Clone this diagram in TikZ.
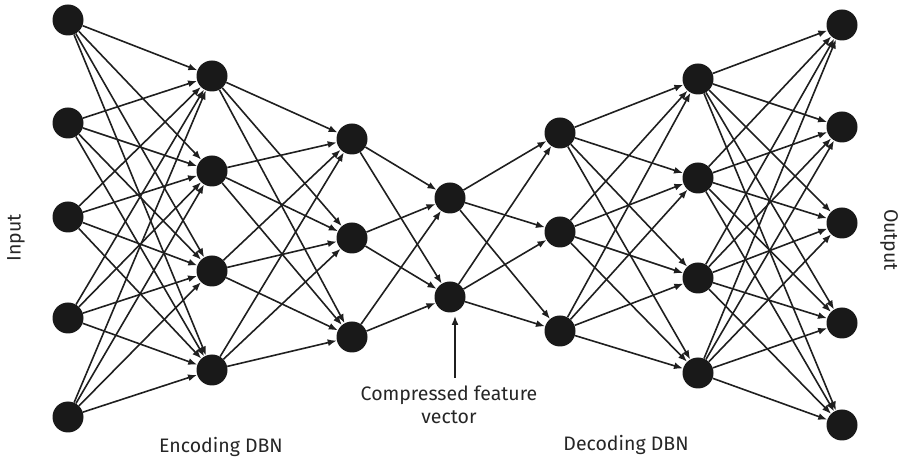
\documentclass[tikz,border=0pt]{standalone}
\usepackage{fontspec}
\setmainfont{Fira Sans}
\usetikzlibrary{arrows.meta}
\begin{document}
\begin{tikzpicture}[x=1pt,y=1pt,
  neuron/.style={circle,fill=black!90,inner sep=0pt,minimum size=31pt},
  link/.style={line width=1.6pt,draw=black!88,-{Latex[length=9pt,width=7pt]}},
  lbl/.style={font=\fontsize{19.5}{23}\selectfont,text=black!85}]
\useasboundingbox (0,0) rectangle (899,460);
% layer 1
\foreach \i/\y in {1/20,2/123,3/217,4/318,5/417} \node[neuron] (a\i) at (68,460-\y) {};
% layer 2
\foreach \i/\y in {1/76,2/171,3/271,4/370} \node[neuron] (b\i) at (212,460-\y) {};
% layer 3
\foreach \i/\y in {1/139,2/238,3/337} \node[neuron] (c\i) at (352,460-\y) {};
% layer 4
\foreach \i/\y in {1/198,2/297} \node[neuron] (d\i) at (450,460-\y) {};
% layer 5
\foreach \i/\y in {1/133,2/232,3/331} \node[neuron] (e\i) at (560,460-\y) {};
% layer 6
\foreach \i/\y in {1/79,2/178,3/278,4/373} \node[neuron] (f\i) at (698,460-\y) {};
% layer 7
\foreach \i/\y in {1/25,2/127,3/223,4/323,5/425} \node[neuron] (g\i) at (842,460-\y) {};
% connections
\foreach \s in {1,...,5} \foreach \t in {1,...,4} \draw[link] (a\s) -- (b\t);
\foreach \s in {1,...,4} \foreach \t in {1,...,3} \draw[link] (b\s) -- (c\t);
\foreach \s in {1,...,3} \foreach \t in {1,2} \draw[link] (c\s) -- (d\t);
\foreach \s in {1,2} \foreach \t in {1,...,3} \draw[link] (d\s) -- (e\t);
\foreach \s in {1,...,3} \foreach \t in {1,...,4} \draw[link] (e\s) -- (f\t);
\foreach \s in {1,...,4} \foreach \t in {1,...,5} \draw[link] (f\s) -- (g\t);
% labels
\node[lbl,rotate=90] (inp) at (16,460-238) {Input};
\node[lbl,rotate=-90] (outp) at (889,460-240) {Output};
\node[lbl] (enc) at (221,460-447) {Encoding DBN};
\node[lbl] (dec) at (626,460-445) {Decoding DBN};
\node[lbl,align=center] (cfv) at (449,460-405) {Compressed feature\\vector};
\coordinate (cfvtop) at (455,460-378);
\draw[link] (cfvtop) -- (455,460-316);
\end{tikzpicture}
\end{document}
